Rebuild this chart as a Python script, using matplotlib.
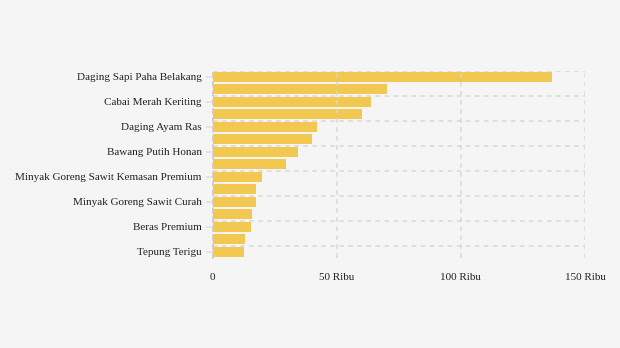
import matplotlib.pyplot as plt
import numpy as np

# harga komoditas (Rp), urut dari tertinggi
items = ['Daging Sapi Paha Belakang', 'Cabai Rawit Merah', 'Cabai Merah Keriting',
         'Cabai Merah Besar', 'Daging Ayam Ras', 'Bawang Merah', 'Bawang Putih Honan',
         'Telur Ayam Ras', 'Minyak Goreng Sawit Kemasan Premium', 'Gula Konsumsi',
         'Minyak Goreng Sawit Curah', 'Minyak Goreng Kemasan Sederhana', 'Beras Premium',
         'Beras Medium', 'Tepung Terigu']
prices = [136800, 70300, 63800, 60200, 42100, 40000, 34400, 29600,
          19900, 17500, 17500, 15800, 15400, 13000, 12600]
xticks = [0, 50000, 100000, 150000]
xticklabels = ['0', '50 Ribu', '100 Ribu', '150 Ribu']

plt.rcParams['font.family'] = ['Liberation Serif', 'DejaVu Serif']
bg = '#f5f5f5'
fig = plt.figure(figsize=(6.2, 3.48), dpi=100, facecolor=bg)
ax = fig.add_axes([0.343, 0.258, 0.6005, 0.5387], facecolor=bg)

y = np.arange(len(items))
ax.barh(y, prices, height=0.8, color='#f2c850', zorder=1)
ax.set_ylim(len(items) - 0.5, -0.5)
ax.set_xlim(0, 150000)

ax.set_yticks(y[::2])
ax.set_yticklabels(items[::2], fontsize=8, color='#222222')
ax.set_xticks(xticks)
ax.set_xticklabels(xticklabels, fontsize=8, color='#222222')

# grid: vertical at ticks, horizontal at top of every labelled band
for xv in xticks[1:]:
    ax.axvline(xv, color='#d6d6d6', lw=1.3, ls=(0, (2.5, 2.5)), alpha=0.8, zorder=2)
for yv in y[::2] - 0.5:
    ax.axhline(yv, color='#d6d6d6', lw=1.3, ls=(0, (2.5, 2.5)), alpha=0.8, zorder=2)

for s in ['top', 'right', 'bottom']:
    ax.spines[s].set_visible(False)
ax.spines['left'].set_color('#cccccc')
ax.spines['left'].set_linewidth(1.3)
ax.spines['left'].set_linestyle((0, (2.5, 2.5)))
ax.spines['left'].set_zorder(3)

ax.tick_params(axis='y', length=5, width=1.3, color='#e2e2e2', pad=3)
ax.tick_params(axis='x', length=0, pad=11)

plt.savefig('out.png', dpi=100, facecolor=bg)
